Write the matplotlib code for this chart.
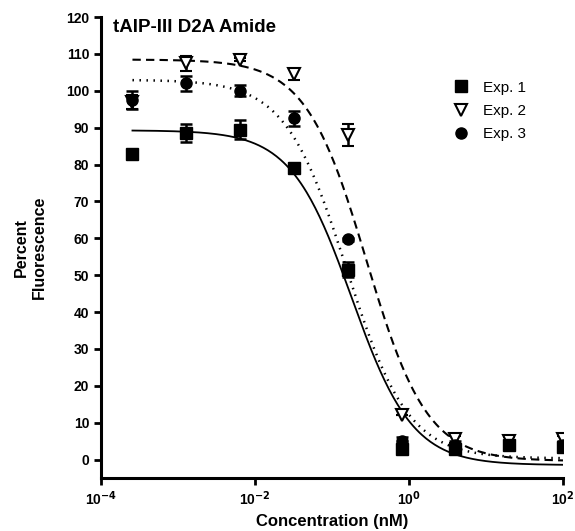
import numpy as np
import matplotlib.pyplot as plt
from matplotlib.lines import Line2D

plt.rcParams['font.family'] = ['Liberation Sans', 'DejaVu Sans']
plt.rcParams['mathtext.default'] = 'bf'

# concentrations (nM)
conc = [0.000256, 0.00128, 0.0064, 0.032, 0.16, 0.8, 4, 20, 100]

exp1 = [83, 88.5, 89.5, 79, 51.5, 3, 3, 4, 3.5]
exp1_err = [0, 2.5, 2.5, 0, 2, 0.5, 1, 1, 1]
exp2 = [97, 107.5, 108.5, 104.5, 88, 12, 5.5, 5, 5.5]
exp2_err = [2, 2, 0.5, 1.5, 3, 0, 1, 1, 1]
exp3 = [97.5, 102, 100, 92.5, 59.7, 5, 4, 4, 4]
exp3_err = [2.5, 2, 1.5, 2, 0.5, 1, 1, 1, 1]

# fitted curves: top, bottom, IC50 (nM), hill slope
fit1 = [89.3, -1.5, 0.18, 1.1]
fit2 = [108.5, -0.4, 0.28, 1.1]
fit3 = [103.0, 0.3, 0.155, 1.09]


def logistic(x, p):
    top, bottom, ic50, h = p
    return bottom + (top - bottom) / (1 + (x / ic50) ** h)


fig = plt.figure(figsize=(5.75, 5.31), dpi=100)
ax = fig.add_axes([0.1757, 0.0998, 0.8034, 0.868])

xs = np.logspace(np.log10(conc[0]), np.log10(conc[-1]), 300)
ax.plot(xs, logistic(xs, fit1), '-', color='black', lw=1.3)
ax.plot(xs, logistic(xs, fit2), '--', color='black', lw=1.5, dashes=(4, 2.5))
ax.plot(xs, logistic(xs, fit3), ':', color='black', lw=1.8, dashes=(0.6, 2.2))

eb = dict(ecolor='black', elinewidth=1.8, capsize=4.5, capthick=1.8, ls='none')
ax.errorbar(conc, exp2, yerr=exp2_err, fmt='v', mfc='white', mec='black', mew=1.5,
            ms=9, **eb)
ax.errorbar(conc, exp1, yerr=exp1_err, fmt='s', color='black', ms=8, **eb)
ax.errorbar(conc, exp3, yerr=exp3_err, fmt='o', color='black', ms=8, **eb)

ax.set_xscale('log')
ax.set_xlim(1e-4, 1e2)
ax.set_ylim(-5, 120)
ax.set_xticks([1e-4, 1e-2, 1e0, 1e2])
ax.set_xticklabels(['10$^{-4}$', '10$^{-2}$', '10$^{0}$', '10$^{2}$'])
ax.xaxis.set_minor_locator(plt.NullLocator())
ax.set_yticks(range(0, 121, 10))

for s in ['top', 'right']:
    ax.spines[s].set_visible(False)
for s in ['left', 'bottom']:
    ax.spines[s].set_linewidth(2.2)
ax.tick_params(width=2, length=5, labelsize=10)
for lab in ax.get_xticklabels() + ax.get_yticklabels():
    lab.set_fontweight('bold')

ax.set_xlabel('Concentration (nM)', fontsize=12, fontweight='bold', labelpad=4)
ax.set_ylabel('Percent\nFluorescence', fontsize=11.5, fontweight='bold', labelpad=14)
ax.text(0.025, 0.995, 'tAIP-III D2A Amide', transform=ax.transAxes, fontsize=13.5,
        fontweight='bold', va='top', ha='left')

handles = [
    Line2D([], [], marker='s', color='black', ls='none', ms=8),
    Line2D([], [], marker='v', mfc='white', mec='black', mew=1.5, ls='none', ms=9),
    Line2D([], [], marker='o', color='black', ls='none', ms=8),
]
ax.legend(handles, ['Exp. 1', 'Exp. 2', 'Exp. 3'], loc='center left',
          bbox_to_anchor=(0.765, 0.791), bbox_transform=fig.transFigure,
          frameon=False, fontsize=11, handletextpad=0.95, labelspacing=0.62,
          handlelength=1.0)

fig.savefig('out.png', dpi=100)
